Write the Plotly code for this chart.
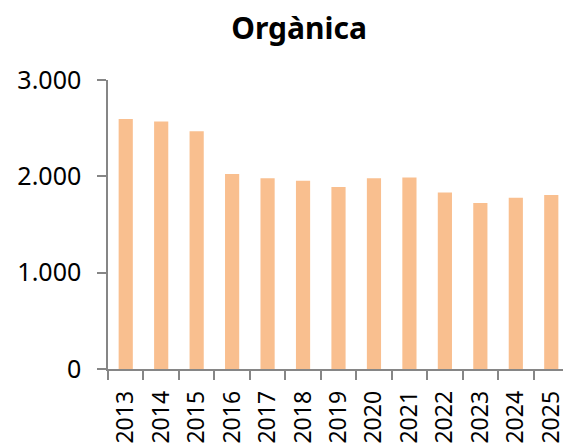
import plotly.graph_objects as go

years = ["2013", "2014", "2015", "2016", "2017", "2018", "2019",
         "2020", "2021", "2022", "2023", "2024", "2025"]
values = [2596, 2568, 2468, 2023, 1981, 1954, 1888,
          1981, 1988, 1833, 1723, 1778, 1805]
y_ticks = [0, 1000, 2000, 3000]

font_family = "Noto Sans, Open Sans, sans-serif"
axis_color = "#868686"

fig = go.Figure(go.Bar(
    x=years, y=values,
    marker=dict(color="#F9BF8F", line=dict(width=0)),
    width=0.4,
))

# page body has an 8px margin, so the figure is offset by (8, 8)
fig.update_layout(
    width=563, height=440,
    margin=dict(l=100, r=2, t=72, b=79),
    paper_bgcolor="white", plot_bgcolor="white",
    showlegend=False,
    separators=",.",
    title=dict(text="<b>Orgànica</b>", x=0.517, xref="container", xanchor="center",
               y=0.953, yref="container", yanchor="middle",
               font=dict(family=font_family, size=30, color="black")),
    font=dict(family=font_family, color="black"),
)

fig.update_xaxes(
    type="category",
    showline=True, linecolor=axis_color, linewidth=1.5,
    ticks="outside", ticklen=9, tickcolor=axis_color, tickwidth=1.5,
    tickson="boundaries",
    tickangle=-90,
    tickfont=dict(family=font_family, size=23, color="black"),
    showgrid=False,
    range=[-0.5, 12.5],
    automargin=False,
    ticklabelstandoff=11,
)

fig.update_yaxes(
    range=[0, 3000],
    tickvals=y_ticks, tickformat=",",
    showline=True, linecolor=axis_color, linewidth=1.5,
    ticks="outside", ticklen=9, tickcolor=axis_color, tickwidth=1.5,
    tickfont=dict(family=font_family, size=25, color="black"),
    showgrid=False, zeroline=False,
    ticklabelstandoff=11,
    automargin=False,
)

fig.write_html("out.html")
